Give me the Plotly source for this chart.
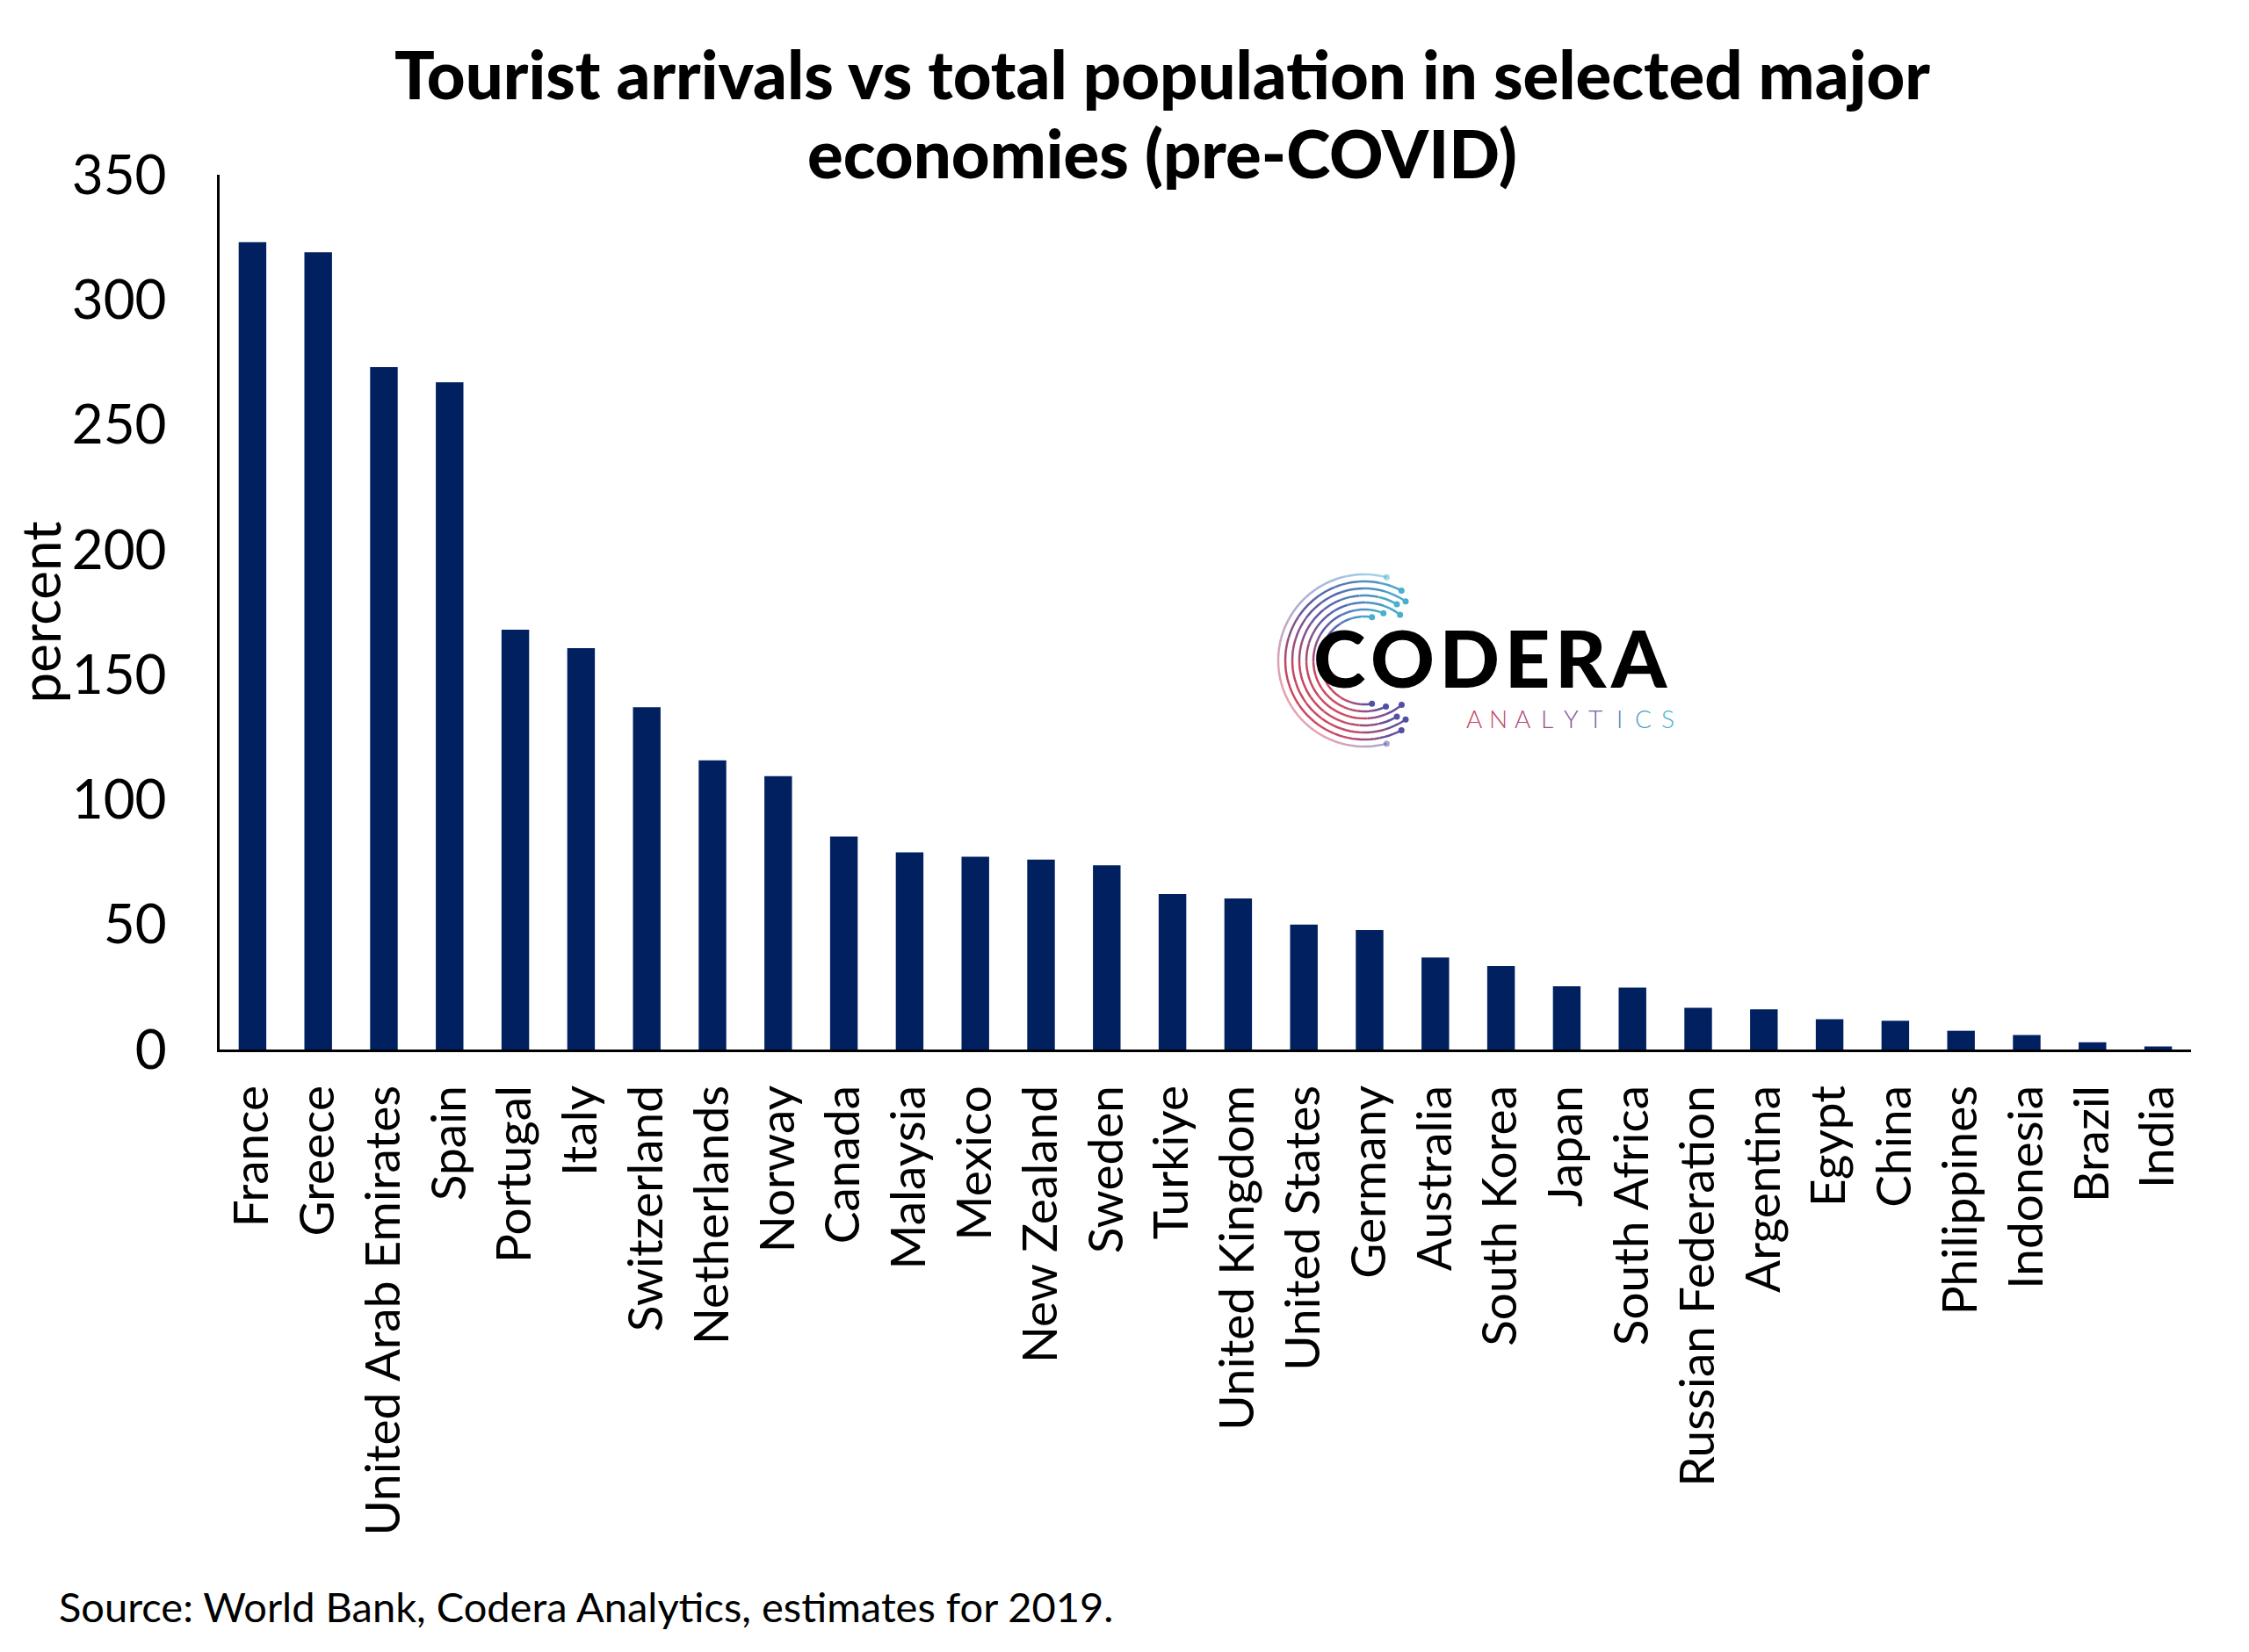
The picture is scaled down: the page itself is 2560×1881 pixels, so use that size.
import math
import plotly.graph_objects as go

countries = ["France", "Greece", "United Arab Emirates", "Spain", "Portugal", "Italy",
             "Switzerland", "Netherlands", "Norway", "Canada", "Malaysia", "Mexico",
             "New Zealand", "Sweden", "Turkiye", "United Kingdom", "United States",
             "Germany", "Australia", "South Korea", "Japan", "South Africa",
             "Russian Federation", "Argentina", "Egypt", "China", "Philippines",
             "Indonesia", "Brazil", "India"]
values = [323, 319, 273, 267, 168, 160.6, 137, 115.7, 109.4, 85.2, 78.9, 77.1,
          76.0, 73.7, 62.2, 60.4, 50.0, 47.8, 36.8, 33.4, 25.3, 24.8, 16.7, 16.1,
          12.1, 11.5, 7.5, 5.8, 2.9, 1.2]
y_ticks = [0, 50, 100, 150, 200, 250, 300, 350]
title_lines = ["Tourist arrivals vs total population in selected major",
               "economies (pre-COVID)"]

OFF = 8  # page body margin
W, H = 2560, 1881
# target pixel positions in the screenshot
X0, X1, Y0, Y1 = 250, 2494, 199, 1195
L, T = X0 - OFF, Y0 - OFF
R = W - (X1 - OFF)
B = H - (Y1 - OFF)
pw, ph = W - L - R, H - T - B


def px(x):
    return (x - OFF - L) / pw


def py(y):
    return (H - B - (y - OFF)) / ph


NAVY = "#002060"
FONT = "Lato"

fig = go.Figure(go.Bar(x=countries, y=values, marker_color=NAVY, marker_line_width=0,
                       width=0.42))

fig.update_layout(
    width=W, height=H,
    margin=dict(l=L, r=R, t=T, b=B, autoexpand=False),
    paper_bgcolor="white", plot_bgcolor="white",
    font=dict(family=FONT, color="black"),
    showlegend=False,
    xaxis=dict(range=[-0.5, len(countries) - 0.5], showline=True, linecolor="black",
               linewidth=3, showgrid=False, tickangle=-90, ticks="outside",
               ticklen=16, tickcolor="rgba(0,0,0,0)",
               tickfont=dict(family=FONT, size=55, color="black")),
    yaxis=dict(range=[0, 350], tickvals=y_ticks, showline=True, linecolor="black",
               linewidth=3, showgrid=False, zeroline=False, ticks="outside",
               ticklen=45, tickcolor="rgba(0,0,0,0)",
               tickfont=dict(family=FONT, size=62, color="black"),
               title=dict(text="percent", standoff=0,
                          font=dict(family=FONT, size=62, color="black"))),
)

# Title (two lines with tight spacing)
for line, yc in zip(title_lines, (84, 174)):
    fig.add_annotation(text=line, xref="paper", yref="paper", x=px(1323), y=py(yc),
                       xanchor="center", yanchor="middle", showarrow=False,
                       borderpad=0, font=dict(family=FONT, size=76, color="black", weight=900))

# Source note
fig.add_annotation(text="Source: World Bank, Codera Analytics, estimates for 2019.",
                   xref="paper", yref="paper", x=px(65), y=py(1829),
                   xanchor="left", yanchor="middle", showarrow=False,
                   font=dict(family=FONT, size=47, color="black"))

# Logo text
fig.add_annotation(text="C\u200aO\u200aD\u200aE\u200aR\u200aA", xref="paper", yref="paper",
                   x=px(1494), y=py(748), xanchor="left", yanchor="middle",
                   showarrow=False, borderpad=0,
                   font=dict(family=FONT, size=90, color="black", weight=900))
an_cols = ["#c8465e", "#c4476a", "#b04a78", "#9a4d88", "#7f5497", "#6a66a8",
           "#5a80b8", "#4c9ac4", "#45b0cc"]
an_x0, an_x1 = 1678, 1898
for i, (ch, c) in enumerate(zip("ANALYTICS", an_cols)):
    xc = an_x0 + (an_x1 - an_x0) * i / 8
    fig.add_annotation(text=ch, xref="paper", yref="paper", x=px(xc), y=py(818),
                       xanchor="center", yanchor="middle", showarrow=False, borderpad=0,
                       font=dict(family=FONT, size=28, color=c, weight=300))

# Logo arcs (decoration): gradient from cyan (top) through purple to red (left/bottom)
cx, cy = 1553, 752
stops = [(0.0, (72, 176, 204)), (0.3, (90, 90, 170)), (0.55, (200, 70, 95)),
         (0.8, (205, 75, 100)), (1.0, (80, 80, 165))]


def grad(t):
    for (t0, c0), (t1, c1) in zip(stops[:-1], stops[1:]):
        if t <= t1:
            f = (t - t0) / (t1 - t0)
            return "rgb(%d,%d,%d)" % tuple(round(a + (b - a) * f) for a, b in zip(c0, c1))
    return "rgb(%d,%d,%d)" % stops[-1][1]


arc_specs = [(98, 75, 285, 0.5), (90, 62, 298, 1.0), (82, 55, 305, 1.0),
             (74, 60, 300, 1.0), (66, 52, 310, 1.0), (58, 68, 295, 1.0), (50, 80, 280, 1.0)]
for r, a0, a1, op in arc_specs:
    nseg = 14
    for s in range(nseg):
        pts = []
        for k in range(6):
            a = math.radians(a0 + (a1 - a0) * (s + k / 5) / nseg)
            pts.append((r * math.cos(a), r * math.sin(a)))
        path = "M " + " L ".join(f"{x:.1f},{y:.1f}" for x, y in pts)
        fig.add_shape(type="path", path=path, xref="paper", yref="paper",
                      xsizemode="pixel", ysizemode="pixel",
                      xanchor=px(cx), yanchor=py(cy), opacity=op,
                      line=dict(color=grad((s + 0.5) / nseg), width=2.5))
    for a, t in ((a0, 0.0), (a1, 1.0)):
        ar = math.radians(a)
        x, y = r * math.cos(ar), r * math.sin(ar)
        fig.add_shape(type="circle", xref="paper", yref="paper",
                      xsizemode="pixel", ysizemode="pixel",
                      xanchor=px(cx), yanchor=py(cy),
                      x0=x - 3.5, x1=x + 3.5, y0=y - 3.5, y1=y + 3.5,
                      fillcolor=grad(t), line_width=0, opacity=op)

fig.write_html("out.html")
